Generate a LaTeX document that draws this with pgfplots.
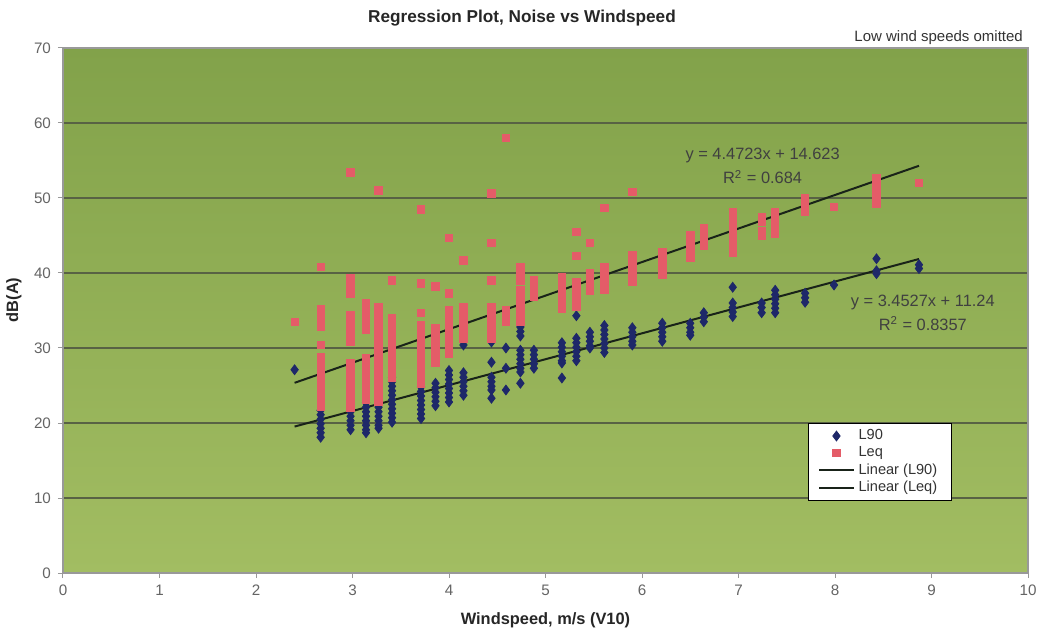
\documentclass[border=0pt]{standalone}
\usepackage{pgfplots}
\pgfplotsset{compat=1.18}
\usepackage{fontspec}
\setmainfont{Liberation Sans}
\definecolor{navy}{RGB}{30,40,105}
\definecolor{leqred}{RGB}{228,92,104}
\definecolor{gridc}{RGB}{88,98,68}
\definecolor{ticktext}{RGB}{100,100,100}
\definecolor{plottop}{RGB}{130,162,74}
\definecolor{plotbot}{RGB}{162,189,98}
\definecolor{trend}{RGB}{25,35,25}
\begin{document}
\begin{tikzpicture}
\begin{axis}[
  at={(0,0)}, anchor=south west,
  scale only axis, width=482.5pt, height=262.5pt,
  xmin=0, xmax=10, ymin=0, ymax=70,
  xtick={0,...,10}, ytick={0,10,...,70},
  axis background/.style={top color=plottop, bottom color=plotbot},
  ymajorgrids, major grid style={color=gridc, line width=1pt},
  axis line style={color=gray!80, line width=0.6pt},
  tick align=outside, major tick length=2.5pt,
  tick style={color=gray!80, line width=0.5pt},
  xtick pos=bottom, ytick pos=left,
  ticklabel style={font=\fontsize{7.6}{9}\selectfont, text=ticktext},
  /pgf/number format/assume math mode=true,
  clip=false,
  legend style={at={(0.772,0.2857)}, anchor=north west, draw=black, line width=0.4pt,
    fill=white, font=\fontsize{7.3}{8.5}\selectfont, inner xsep=5pt, inner ysep=1pt, row sep=-2pt,
    text=black!80},
  legend cell align=left,
]
\addplot[only marks, mark=diamond*, mark size=2.45pt, color=navy] coordinates {
(2.4,27.1)
(2.67,21.7)(2.67,21.1)(2.67,20.5)(2.67,19.9)(2.67,19.3)(2.67,18.7)(2.67,18.1)
(2.98,23.3)(2.98,22.7)(2.98,22.1)(2.98,21.5)(2.98,20.9)(2.98,20.3)(2.98,19.7)(2.98,19.1)
(3.14,22.7)(3.14,22.1)(3.14,21.5)(3.14,20.9)(3.14,20.3)(3.14,19.7)(3.14,19.1)(3.14,18.7)
(3.27,24.7)(3.27,22.7)(3.27,22.1)(3.27,21.5)(3.27,20.9)(3.27,20.3)(3.27,19.7)(3.27,19.3)
(3.41,26.1)(3.41,25.5)(3.41,24.9)(3.41,24.3)(3.41,23.7)(3.41,23.1)(3.41,22.5)(3.41,21.9)(3.41,21.3)(3.41,20.7)(3.41,20.1)
(3.71,24.8)(3.71,24.2)(3.71,23.6)(3.71,23.0)(3.71,22.4)(3.71,21.8)(3.71,21.2)(3.71,20.6)
(3.86,25.3)(3.86,24.7)(3.86,24.1)(3.86,23.5)(3.86,22.9)(3.86,22.3)
(4.0,27.0)(4.0,26.4)(4.0,25.8)(4.0,25.2)(4.0,24.6)(4.0,24.0)(4.0,23.4)(4.0,22.8)
(4.15,30.4)(4.15,26.7)(4.15,26.1)(4.15,25.5)(4.15,24.9)(4.15,24.3)(4.15,23.7)
(4.44,30.8)(4.44,28.1)(4.44,26.1)(4.44,25.5)(4.44,24.9)(4.44,24.4)(4.44,23.3)
(4.59,30.0)(4.59,27.3)(4.59,24.4)
(4.74,32.8)(4.74,32.2)(4.74,31.6)(4.74,29.7)(4.74,29.1)(4.74,28.5)(4.74,27.9)(4.74,27.3)(4.74,26.8)(4.74,25.3)
(4.88,29.7)(4.88,29.1)(4.88,28.5)(4.88,27.9)(4.88,27.3)
(5.17,30.7)(5.17,30.1)(5.17,29.5)(5.17,28.9)(5.17,28.3)(5.17,28.0)(5.17,26.0)
(5.32,34.3)(5.32,31.3)(5.32,30.7)(5.32,30.1)(5.32,29.5)(5.32,28.9)(5.32,28.3)
(5.46,32.1)(5.46,31.5)(5.46,30.9)(5.46,30.3)(5.46,30.0)
(5.61,33.0)(5.61,32.4)(5.61,31.8)(5.61,31.2)(5.61,30.6)(5.61,30.0)(5.61,29.4)
(5.9,32.7)(5.9,32.1)(5.9,31.5)(5.9,30.9)(5.9,30.4)
(6.21,33.3)(6.21,32.7)(6.21,32.1)(6.21,31.5)(6.21,30.9)
(6.5,33.3)(6.5,32.7)(6.5,32.1)(6.5,31.7)
(6.64,34.7)(6.64,34.1)(6.64,33.5)
(6.94,38.1)(6.94,36.0)(6.94,35.4)(6.94,34.8)(6.94,34.2)
(7.24,36.0)(7.24,35.4)(7.24,34.7)
(7.38,37.7)(7.38,37.1)(7.38,36.5)(7.38,35.9)(7.38,35.3)(7.38,34.7)
(7.69,37.3)(7.69,36.7)(7.69,36.1)
(7.99,38.4)
(8.43,41.9)(8.43,40.3)(8.43,39.9)
(8.87,41.1)(8.87,40.6)
};
\addlegendentry{L90}
\addplot[only marks, mark=square*, mark size=1.85pt, color=leqred] coordinates {
(2.4,33.5)
(2.67,40.8)(2.67,35.2)(2.67,34.6)(2.67,34.0)(2.67,33.4)(2.67,32.8)(2.67,30.4)(2.67,28.8)(2.67,28.2)(2.67,27.6)(2.67,27.0)(2.67,26.4)(2.67,25.8)(2.67,25.2)(2.67,24.6)(2.67,24.0)(2.67,23.4)(2.67,22.8)(2.67,22.2)
(2.98,53.4)(2.98,39.3)(2.98,38.6)(2.98,37.9)(2.98,37.2)(2.98,34.4)(2.98,33.8)(2.98,33.2)(2.98,32.6)(2.98,32.0)(2.98,31.4)(2.98,30.8)(2.98,28.0)(2.98,27.4)(2.98,26.8)(2.98,26.2)(2.98,25.6)(2.98,25.0)(2.98,24.4)(2.98,23.8)(2.98,23.2)(2.98,22.6)(2.98,22.0)
(3.14,36.0)(3.14,35.4)(3.14,34.8)(3.14,34.2)(3.14,33.6)(3.14,33.0)(3.14,32.4)(3.14,28.7)(3.14,28.0)(3.14,27.3)(3.14,26.6)(3.14,25.9)(3.14,25.2)(3.14,24.5)(3.14,23.8)(3.14,23.1)
(3.27,51.0)(3.27,35.5)(3.27,34.9)(3.27,34.3)(3.27,33.7)(3.27,33.1)(3.27,32.5)(3.27,31.9)(3.27,31.3)(3.27,30.7)(3.27,30.1)(3.27,29.5)(3.27,28.9)(3.27,28.3)(3.27,27.7)(3.27,27.1)(3.27,26.5)(3.27,25.9)(3.27,25.3)(3.27,24.7)(3.27,24.1)(3.27,23.5)(3.27,22.9)
(3.41,39.0)(3.41,34.0)(3.41,33.2)(3.41,32.1)(3.41,31.5)(3.41,30.9)(3.41,30.3)(3.41,29.7)(3.41,29.1)(3.41,28.5)(3.41,27.9)(3.41,27.3)(3.41,26.7)(3.41,26.1)
(3.71,48.5)(3.71,38.6)(3.71,34.7)(3.71,33.0)(3.71,32.4)(3.71,31.8)(3.71,31.2)(3.71,30.6)(3.71,30.0)(3.71,29.4)(3.71,28.8)(3.71,28.2)(3.71,27.6)(3.71,27.0)(3.71,26.4)(3.71,25.8)(3.71,25.2)
(3.86,38.2)(3.86,32.7)(3.86,32.1)(3.86,31.5)(3.86,30.9)(3.86,30.3)(3.86,29.7)(3.86,29.1)(3.86,28.5)(3.86,28.0)
(4.0,44.7)(4.0,37.3)(4.0,35.0)(4.0,34.4)(4.0,33.8)(4.0,33.2)(4.0,32.6)(4.0,32.0)(4.0,31.4)(4.0,30.8)(4.0,30.2)(4.0,29.6)(4.0,29.3)
(4.15,41.7)(4.15,35.5)(4.15,34.9)(4.15,34.3)(4.15,33.7)(4.15,33.1)(4.15,32.5)(4.15,31.9)(4.15,31.3)
(4.44,50.6)(4.44,44.0)(4.44,39.0)(4.44,35.5)(4.44,34.9)(4.44,34.3)(4.44,33.7)(4.44,33.1)(4.44,32.5)(4.44,31.9)(4.44,31.3)
(4.59,58.0)(4.59,35.0)(4.59,34.2)(4.59,33.5)
(4.74,40.8)(4.74,40.2)(4.74,39.6)(4.74,39.0)(4.74,37.7)(4.74,37.1)(4.74,36.5)(4.74,35.9)(4.74,35.3)(4.74,34.7)(4.74,34.1)(4.74,33.5)
(4.88,39.0)(4.88,38.3)(4.88,37.6)(4.88,36.9)
(5.17,39.5)(5.17,38.9)(5.17,38.3)(5.17,37.7)(5.17,37.1)(5.17,36.5)(5.17,35.9)(5.17,35.3)
(5.32,45.5)(5.32,42.3)(5.32,38.8)(5.32,38.2)(5.32,37.6)(5.32,37.0)(5.32,36.4)(5.32,35.8)(5.32,35.5)
(5.46,44.0)(5.46,40.0)(5.46,39.4)(5.46,38.8)(5.46,38.2)(5.46,37.6)
(5.61,48.7)(5.61,40.8)(5.61,40.2)(5.61,39.6)(5.61,39.0)(5.61,38.4)(5.61,37.8)
(5.9,50.8)(5.9,42.4)(5.9,41.8)(5.9,41.2)(5.9,40.6)(5.9,40.0)(5.9,39.4)(5.9,38.8)
(6.21,42.8)(6.21,42.2)(6.21,41.6)(6.21,41.0)(6.21,40.4)(6.21,39.8)
(6.5,45.0)(6.5,44.4)(6.5,43.8)(6.5,42.6)(6.5,42.0)
(6.64,46.0)(6.64,45.4)(6.64,44.8)(6.64,44.2)(6.64,43.7)
(6.94,48.1)(6.94,47.5)(6.94,46.9)(6.94,46.3)(6.94,45.7)(6.94,45.1)(6.94,44.5)(6.94,43.9)(6.94,43.3)(6.94,42.7)
(7.24,47.5)(7.24,46.9)(7.24,45.6)(7.24,45.0)
(7.38,48.1)(7.38,47.5)(7.38,46.9)(7.38,46.3)(7.38,45.7)(7.38,45.3)
(7.69,50.0)(7.69,49.4)(7.69,48.8)(7.69,48.2)
(7.99,48.8)
(8.43,52.7)(8.43,52.0)(8.43,51.3)(8.43,50.6)(8.43,50.0)(8.43,49.3)
(8.87,52.0)
};
\addlegendentry{Leq}
\addplot[color=trend, line width=1pt, no marks] coordinates {(2.4,19.527)(8.87,41.865)};
\addlegendentry{Linear (L90)}
\addplot[color=trend, line width=1pt, no marks] coordinates {(2.4,25.357)(8.87,54.292)};
\addlegendentry{Linear (Leq)}
\node[font=\fontsize{8.2}{9}\selectfont, text=black!75] at (axis cs:7.25,55.7) {y = 4.4723x + 14.623};
\node[font=\fontsize{8.2}{9}\selectfont, text=black!75] at (axis cs:7.25,52.8) {R$^{\mathrm{2}}$ = 0.684};
\node[font=\fontsize{8.2}{9}\selectfont, text=black!75] at (axis cs:8.91,36.1) {y = 3.4527x + 11.24};
\node[font=\fontsize{8.2}{9}\selectfont, text=black!75] at (axis cs:8.91,33.3) {R$^{\mathrm{2}}$ = 0.8357};
\node[font=\bfseries\fontsize{8.6}{10}\selectfont, text=black!85] at (rel axis cs:0.4756,1.057) {Regression Plot, Noise vs Windspeed};
\node[font=\fontsize{7.5}{9}\selectfont, text=black!80, anchor=east] at (rel axis cs:1.002,1.019) {Low wind speeds omitted};
\node[font=\bfseries\fontsize{8.2}{10}\selectfont, text=black!85] at (rel axis cs:0.5,-0.0895) {Windspeed, m/s (V10)};
\node[font=\bfseries\fontsize{8.2}{10}\selectfont, text=black!85, rotate=90] at (rel axis cs:-0.0508,0.52) {dB(A)};
\end{axis}
\pgfresetboundingbox
\path[use as bounding box] (-31.5pt,-29.5pt) rectangle (490.5pt,286.5pt);
\end{tikzpicture}
\end{document}
